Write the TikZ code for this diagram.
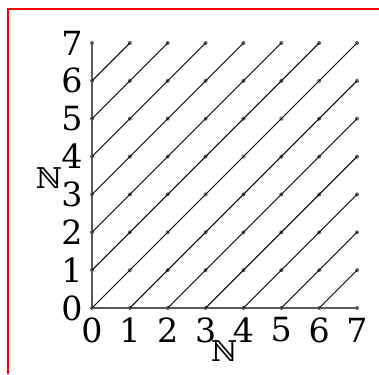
\documentclass[tikz,border=0pt]{standalone}
\usepackage{fontspec}
\setmainfont{DejaVu Serif}
\usepackage{tikz}
\tikzset{
  gdot/.style={circle, fill=gray!80!black, inner sep=0pt, minimum size=3pt},
  gaxis/.style={draw=gray!70!black, line width=1pt},
  gline/.style={draw=black, line width=0.7pt},
  glab/.style={font=\fontsize{25}{30}\selectfont, inner sep=0pt},
  gnat/.style={font=\fontsize{21.5}{26}\selectfont, inner sep=0pt},
}

\begin{document}
\begin{tikzpicture}
\useasboundingbox (-2.43,-1.743) rectangle (7.58,8.135);
% ---- frame ----
\draw[red, line width=1pt] (-2.22,-1.743) -- (-2.22,7.90) -- (7.58,7.90);
% ---- grid points ----
\foreach \i in {0,...,7}
  \foreach \j in {0,...,7}
    \node[gdot] (p-\i-\j) at (\i,\j) {};
% ---- axes ----
\draw[gaxis] (p-0-7.center) -- (p-0-0.center) -- (p-7-0.center);
% ---- diagonals ----
\foreach \k [evaluate=\k as \e using int(7-\k)] in {0,...,6}
  \draw[gline] (p-0-\k.center) -- (p-\e-7.center);
\foreach \k [evaluate=\k as \e using int(7-\k)] in {1,...,6}
  \draw[gline] (p-\k-0.center) -- (p-7-\e.center);
% ---- labels ----
\foreach \k in {0,...,7} {
  \node[glab] (ylab-\k) at (-0.53,\k) {\k};
  \node[glab] (xlab-\k) at (\k,-0.58) {\k};
}
\node[gnat] (ynat) at (-1.14,3.44) {ℕ};
\node[gnat] (xnat) at (3.49,-1.13) {ℕ};
\end{tikzpicture}
\end{document}
